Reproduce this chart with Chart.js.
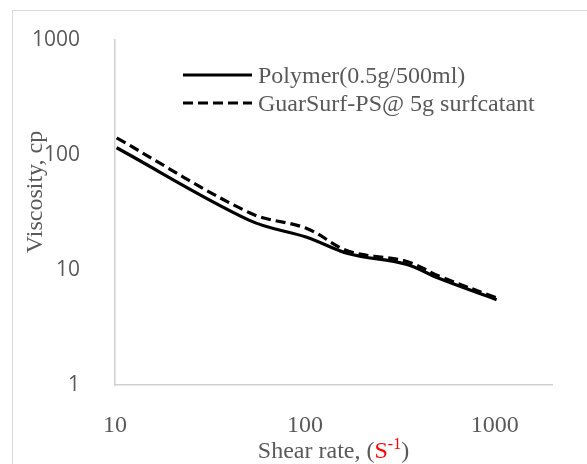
<!DOCTYPE html>
<html>
<head>
<meta charset="utf-8">
<script src="https://cdn.jsdelivr.net/npm/chart.js@4.4.1/dist/chart.umd.min.js"></script>
<style>
  html, body { margin: 0; padding: 0; background: #fff; }
  #wrap { position: relative; width: 587px; height: 464px; overflow: hidden; }
  #frame { position: absolute; left: 12px; top: 10px; width: 620px; height: 520px;
           border: 1px solid #d9d9d9; box-sizing: border-box; }
  canvas { position: absolute; left: 0; top: 0; }
</style>
</head>
<body>
<div id="wrap">
  <div id="frame"></div>
  <canvas id="myChart" width="587" height="464"></canvas>
</div>
<script>
// shear rate (1/s) and viscosity (cp)
const shearRate = [10.2, 51.1, 102.2, 170.3, 340.6, 511, 1022];
const polymer = [115, 26.9, 19.2, 13.8, 11.2, 8.4, 5.5];
const guarSurf = [140, 31.3, 22.9, 14.5, 11.9, 8.8, 5.7];

const seriesNames = ['Polymer(0.5g/500ml)', 'GuarSurf-PS@ 5g surfcatant'];
const xTicks = [10, 100, 1000];
const yTicks = [1, 10, 100, 1000];

const grey = '#595959';
const serif = '"Liberation Serif", "Times New Roman", serif';

const toPoints = (ys) => shearRate.map((x, i) => ({ x, y: ys[i] }));

// legend + axis titles drawn by hand (the x title has a red S^-1)
const decorations = {
  id: 'decorations',
  afterDraw(chart) {
    const { ctx, chartArea } = chart;
    ctx.save();

    // legend
    const rows = [75, 103];
    chart.data.datasets.forEach((ds, i) => {
      ctx.beginPath();
      ctx.strokeStyle = ds.borderColor;
      ctx.lineWidth = ds.borderWidth;
      ctx.setLineDash(ds.borderDash || []);
      ctx.moveTo(183, rows[i]);
      ctx.lineTo(252, rows[i]);
      ctx.stroke();
      ctx.setLineDash([]);
      ctx.fillStyle = grey;
      ctx.font = '24px ' + serif;
      ctx.textBaseline = 'alphabetic';
      ctx.textAlign = 'left';
      ctx.fillText(ds.label, 258, rows[i] + 8);
    });

    // y title
    ctx.save();
    ctx.translate(36, 192);
    ctx.rotate(-Math.PI / 2);
    ctx.font = '24px ' + serif;
    ctx.fillStyle = grey;
    ctx.textAlign = 'center';
    ctx.textBaseline = 'middle';
    ctx.fillText('Viscosity, cp', 0, 0);
    ctx.restore();

    // x title
    const parts = [
      { t: 'Shear rate, (', c: grey, f: '24px ' + serif, dy: 0 },
      { t: 'S', c: '#ff0000', f: '24px ' + serif, dy: 0 },
      { t: '-1', c: '#ff0000', f: '16px ' + serif, dy: -9 },
      { t: ')', c: grey, f: '24px ' + serif, dy: 0 }
    ];
    let total = 0;
    parts.forEach(p => { ctx.font = p.f; p.w = ctx.measureText(p.t).width; total += p.w; });
    let x = (chartArea.left + chartArea.right) / 2 - total / 2;
    const base = 458;
    ctx.textAlign = 'left';
    ctx.textBaseline = 'alphabetic';
    parts.forEach(p => {
      ctx.font = p.f;
      ctx.fillStyle = p.c;
      ctx.fillText(p.t, x, base + p.dy);
      x += p.w;
    });

    ctx.restore();
  }
};

const ctx = document.getElementById('myChart');
new Chart(ctx, {
  type: 'scatter',
  data: {
    datasets: [
      {
        label: seriesNames[0],
        data: toPoints(polymer),
        showLine: true,
        borderColor: '#000000',
        borderWidth: 3.2,
        pointRadius: 0,
        tension: 0.35
      },
      {
        label: seriesNames[1],
        data: toPoints(guarSurf),
        showLine: true,
        borderColor: '#000000',
        borderWidth: 3.2,
        borderDash: [10, 5],
        pointRadius: 0,
        tension: 0.35
      }
    ]
  },
  options: {
    responsive: false,
    animation: false,
    devicePixelRatio: 1,
    layout: { padding: { top: 31, right: 35, left: 0, bottom: 0 } },
    plugins: { legend: { display: false }, tooltip: { enabled: false } },
    scales: {
      x: {
        type: 'logarithmic',
        min: 10,
        max: 2000,
        grid: { display: false },
        border: { display: true, color: '#d0d0d0', width: 1.5 },
        ticks: {
          color: grey,
          font: { family: serif, size: 24 },
          padding: 18,
          maxRotation: 0,
          autoSkip: false,
          callback: (v) => String(v)
        },
        afterBuildTicks: (s) => { s.ticks = xTicks.map(v => ({ value: v })); },
        afterFit: (s) => { s.height = 79; }
      },
      y: {
        type: 'logarithmic',
        min: 1,
        max: 1000,
        grid: { display: false },
        border: { display: true, color: '#d0d0d0', width: 1.5 },
        ticks: {
          color: grey,
          font: { family: '"Open Sans", sans-serif', size: 21 },
          padding: 27,
          autoSkip: false,
          callback: (v) => String(v)
        },
        afterBuildTicks: (s) => { s.ticks = yTicks.map(v => ({ value: v })); },
        afterFit: (s) => { s.width = 115; }
      }
    }
  },
  plugins: [decorations]
});
</script>
</body>
</html>
